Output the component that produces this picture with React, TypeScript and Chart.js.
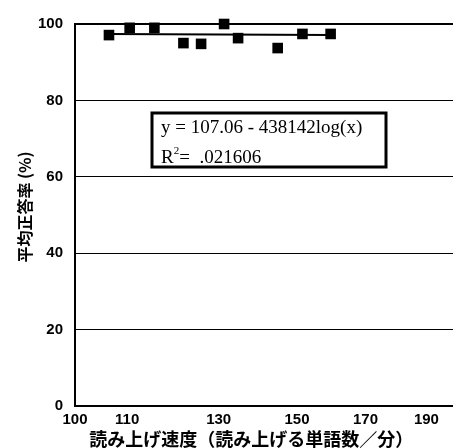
import React, { useEffect, useRef } from "react";
import { Chart, registerables } from "chart.js";

Chart.register(...registerables);

const speeds = [106.4, 110.5, 115.6, 121.9, 125.9, 131.3, 134.7, 144.8, 151.5, 159.5];
const accuracy = [97.1, 99.0, 99.0, 95.0, 94.8, 100, 96.3, 93.7, 97.4, 97.4];
const trendX = [106.4, 159.5];
const trendY = [97.4, 97.1];
const xTicks = [100, 110, 130, 150, 170, 190];
const yTicks = [0, 20, 40, 60, 80, 100];
const equationLine = "y = 107.06 - 438142log(x)";
const rSquaredValue = ".021606";
const xTitle = "読み上げ速度（読み上げる単語数／分）\u3000\u3000";
const yTitle = "\u3000平均正答率 (%)";

const tickFont = { family: '"Liberation Sans", Arial', size: 15, weight: "bold" as const };

const boxPlugin = {
  id: "equationBox",
  afterDatasetsDraw(chart: any) {
    const { ctx, scales } = chart;
    const x = scales.x;
    const y = scales.y;
    const l = Math.round(x.getPixelForValue(115.2));
    const r = Math.round(x.getPixelForValue(176.5));
    const t = Math.round(y.getPixelForValue(76.8));
    const b = Math.round(y.getPixelForValue(62.6));
    ctx.save();
    ctx.fillStyle = "#fff";
    ctx.fillRect(l, t, r - l, b - t);
    ctx.lineWidth = 3;
    ctx.strokeStyle = "#000";
    ctx.strokeRect(l, t, r - l, b - t);
    ctx.fillStyle = "#000";
    ctx.textBaseline = "alphabetic";
    ctx.textAlign = "left";
    ctx.font = '19px "Liberation Serif", "Times New Roman", serif';
    ctx.fillText(equationLine, l + 9, t + 20);
    ctx.fillText("R", l + 9, t + 50);
    const rw = ctx.measureText("R").width;
    ctx.font = '11px "Liberation Serif", "Times New Roman", serif';
    ctx.fillText("2", l + 9 + rw, t + 41);
    const sw = ctx.measureText("2").width;
    ctx.font = '19px "Liberation Serif", "Times New Roman", serif';
    ctx.fillText("=  " + rSquaredValue, l + 9 + rw + sw, t + 50);
    ctx.restore();
  },
};

export default function App() {
  const ref = useRef<HTMLCanvasElement | null>(null);
  useEffect(() => {
    if (!ref.current) return;
    const chart = new Chart(ref.current, {
      type: "scatter",
      data: {
        datasets: [
          {
            label: "points",
            data: speeds.map((s, i) => ({ x: s, y: accuracy[i] })),
            backgroundColor: "#000",
            borderColor: "#000",
            pointStyle: "rect",
            pointRadius: 7.5,
            pointHoverRadius: 7.5,
            borderWidth: 0,
            order: 0,
            clip: false as any,
          },
          {
            label: "trend",
            data: trendX.map((s, i) => ({ x: s, y: trendY[i] })),
            showLine: true,
            borderColor: "#000",
            borderWidth: 2,
            pointRadius: 0,
            order: 1,
            clip: false as any,
          },
        ],
      },
      options: {
        animation: false,
        responsive: false,
        events: [],
        layout: { padding: { top: 24, right: 5, left: 0, bottom: 0 } },
        plugins: { legend: { display: false }, tooltip: { enabled: false } },
        scales: {
          x: {
            type: "logarithmic",
            min: 100,
            max: 200,
            afterBuildTicks: (s: any) => {
              s.ticks = xTicks.map((v) => ({ value: v }));
            },
            afterFit: (s: any) => {
              s.height = 42;
            },
            ticks: {
              autoSkip: false,
              maxRotation: 0,
              color: "#000",
              padding: 5,
              font: tickFont,
              callback: (v: any) => String(v),
            },
            grid: { display: false, drawTicks: false },
            border: { display: true, color: "#000", width: 2 },
            title: {
              display: true,
              text: xTitle,
              color: "#000",
              font: { family: '"Noto Sans CJK JP", sans-serif', size: 18, weight: "bold" },
              padding: { top: 0, bottom: -2 },
            },
          },
          y: {
            type: "linear",
            min: 0,
            max: 100,
            afterBuildTicks: (s: any) => {
              s.ticks = yTicks.map((v) => ({ value: v }));
            },
            afterFit: (s: any) => {
              s.width = 75;
            },
            ticks: {
              color: "#000",
              padding: 12,
              font: tickFont,
            },
            grid: {
              display: true,
              drawTicks: false,
              color: "#000",
              lineWidth: (c: any) => (c.tick && c.tick.value === 100 ? 2 : 1),
            },
            border: { display: true, color: "#000", width: 2 },
            title: {
              display: true,
              text: yTitle,
              color: "#000",
              font: { family: '"Noto Sans CJK JP", sans-serif', size: 16, weight: "bold" },
              padding: { top: 15, bottom: 0 },
            },
          },
        },
      },
      plugins: [boxPlugin],
    });
    return () => chart.destroy();
  }, []);
  return (
    <div
      style={{
        position: "fixed",
        left: 0,
        top: 0,
        width: 453,
        height: 448,
        overflow: "hidden",
        background: "#fff",
      }}
    >
      <canvas ref={ref} width={462} height={448} style={{ display: "block" }} />
    </div>
  );
}
